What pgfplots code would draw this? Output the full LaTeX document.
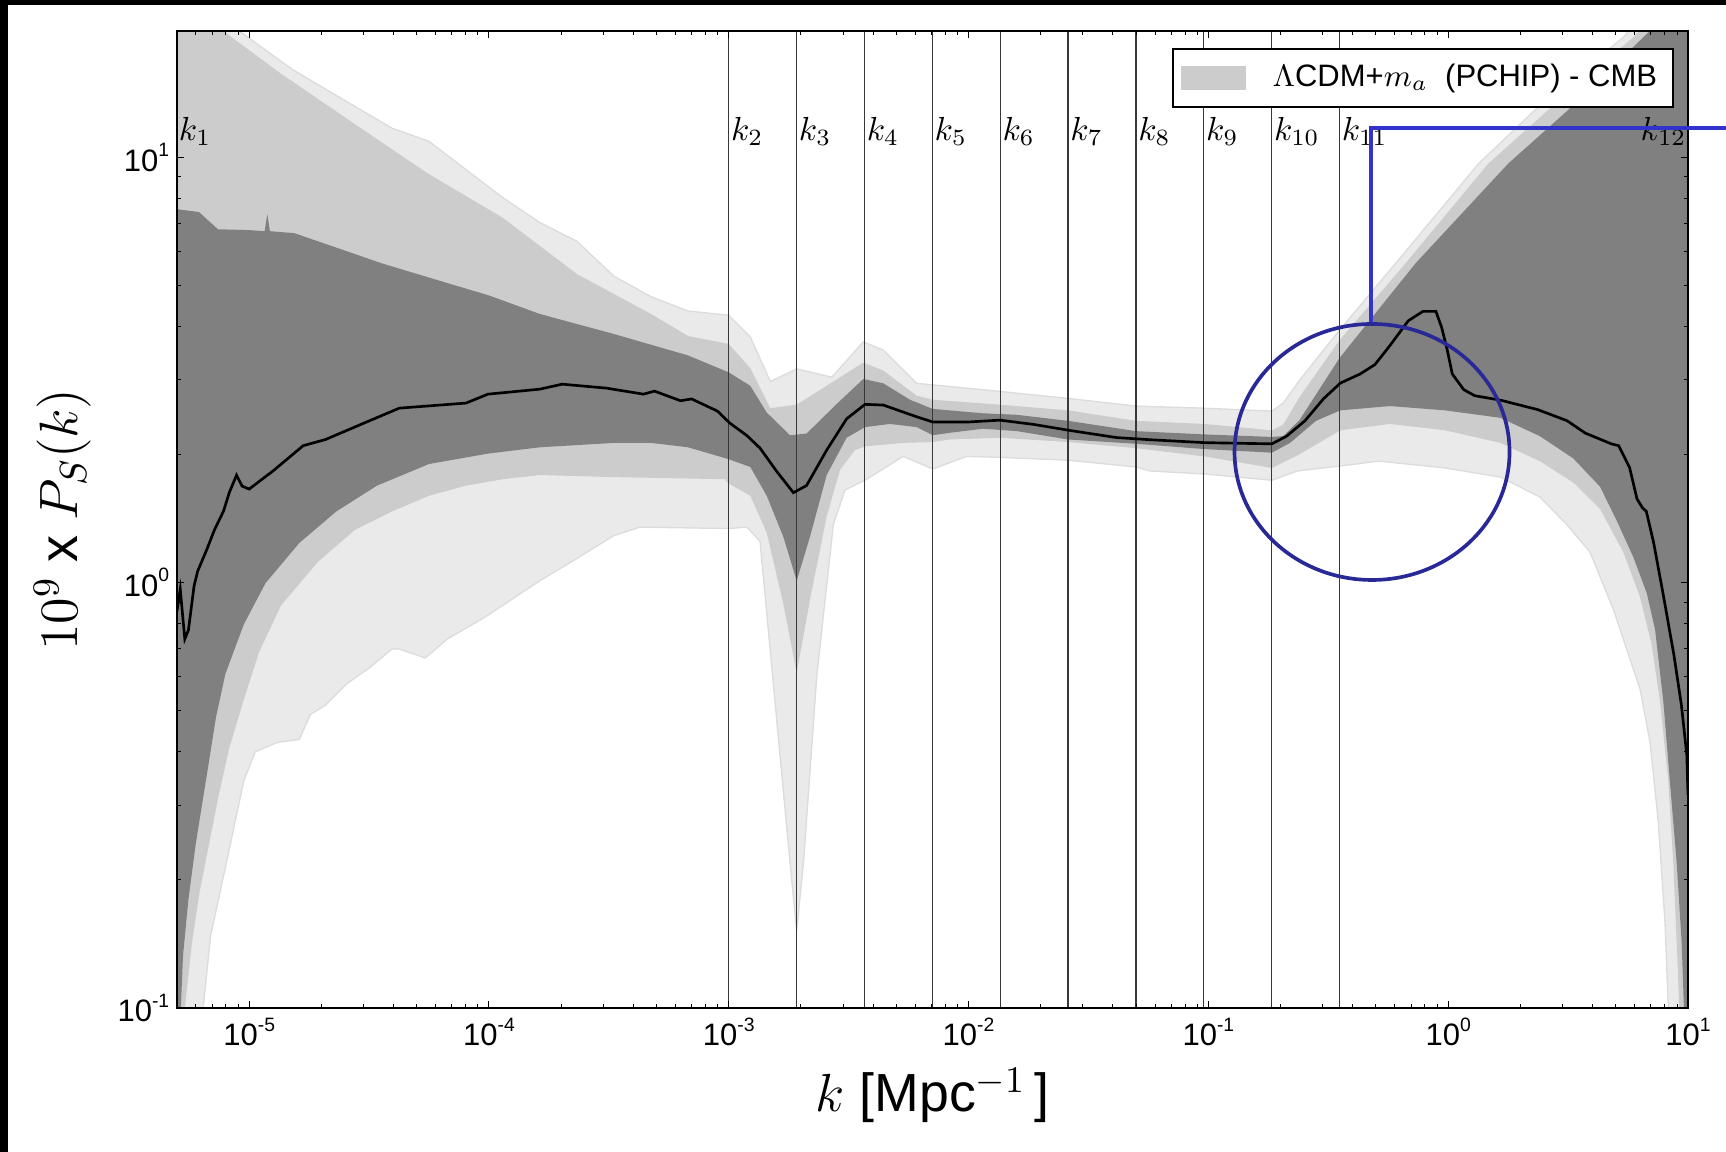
\RequirePackage{fix-cm}
\documentclass[border=0pt]{standalone}
\usepackage[no-math]{fontspec}
\setmainfont{Liberation Sans}
\usepackage{pgfplots}
\pgfplotsset{compat=1.18}
\definecolor{bdark}{RGB}{128,128,128}
\definecolor{bmed}{RGB}{204,204,204}
\definecolor{blight}{RGB}{234,234,234}
\definecolor{bedge}{RGB}{220,220,220}
\definecolor{circblue}{RGB}{40,40,150}
\definecolor{lineblue}{RGB}{50,50,205}
\newcommand{\tk}[1]{10\raisebox{4.4pt}{\fontsize{5.8}{6}\selectfont#1}}
\begin{document}
\begin{tikzpicture}
\begin{axis}[
  xmode=log, ymode=log,
  scale only axis, width=453.3pt, height=293.1pt,
  xmin=5e-6, xmax=10, ymin=0.1, ymax=19.8,
  axis on top,
  xtick={1e-5,1e-4,1e-3,1e-2,1e-1,1,10},
  xticklabels={\tk{-5},\tk{-4},\tk{-3},\tk{-2},\tk{-1},\tk{0},\tk{1}},
  minor xtick={6e-6,7e-6,8e-6,9e-6,2e-5,3e-5,4e-5,5e-5,6e-5,7e-5,8e-5,9e-5,2e-4,3e-4,4e-4,5e-4,6e-4,7e-4,8e-4,9e-4,2e-3,3e-3,4e-3,5e-3,6e-3,7e-3,8e-3,9e-3,2e-2,3e-2,4e-2,5e-2,6e-2,7e-2,8e-2,9e-2,0.2,0.3,0.4,0.5,0.6,0.7,0.8,0.9,2,3,4,5,6,7,8,9},
  ytick={0.1,1,10},
  yticklabels={\tk{-1},\tk{0},\tk{1}},
  minor ytick={0.2,0.3,0.4,0.5,0.6,0.7,0.8,0.9,2,3,4,5,6,7,8,9},
  tick label style={font=\fontsize{9.3}{11}\selectfont},
  yticklabel style={xshift=1.2pt},
  xticklabel style={yshift=0.6pt},
  major tick length=2.1pt, minor tick length=1.2pt,
  every tick/.style={black, line width=0.3pt},
  axis line style={line width=0.7pt},
  every axis x label/.style={at={(axis description cs:0.5,-0.1061)}, anchor=base, font=\fontsize{16.1}{19}\selectfont},
  every axis y label/.style={at={(axis description cs:-0.0655,0.5)}, rotate=90, anchor=base, font=\fontsize{16.2}{19}\selectfont},
  xlabel={$k$ [Mpc$^{-1}$\,]},
  ylabel={$10^9$ x $P_S(k)$},
  legend style={at={(0.991,0.983)}, anchor=north east, draw=black, line width=0.6pt, fill=white,
    font=\fontsize{9.3}{11}\selectfont, inner xsep=2.4pt, inner ysep=2.2pt, nodes={inner sep=2.5pt}},
  legend image code/.code={\fill[#1] (0pt,-3.6pt) rectangle (19.5pt,3.6pt); \path (25pt,0pt);},
]
% outer (lightest) band
\addplot[fill=blight, draw=bedge, line width=0.4pt, forget plot] coordinates {
(5e-6,36.1) (8.98e-6,19.9) (1.51e-5,16.1) (1.94e-5,14.8) (3.94e-5,11.7) (5.62e-5,10.9) (8.02e-5,9.35) (1.14e-4,8.04) (1.63e-4,7.02) (2.33e-4,6.34) (3.32e-4,5.25) (4.74e-4,4.70) (6.76e-4,4.35) (1.0e-3,4.25) (1.23e-3,3.78) (1.49e-3,2.97) (1.69e-3,3.07) (1.92e-3,3.18) (2.69e-3,3.04) (3.64e-3,3.68) (4.41e-3,3.52) (6.08e-3,2.94) (1.15e-2,2.84) (2.60e-2,2.71) (4.99e-2,2.60) (9.64e-2,2.57) (0.184,2.53) (0.205,2.64) (0.240,2.99) (0.352,3.92) (0.604,5.63) (1.34,9.66) (2.30,12.9) (5.41,19.2) (10,29)
(10,0.0608) (8.28,0.1) (8.02,0.159) (7.52,0.274) (6.94,0.423) (6.31,0.562) (4.88,0.866) (3.90,1.18) (3.12,1.37) (2.41,1.59) (1.65,1.77) (0.972,1.86) (0.514,1.93) (0.355,1.88) (0.235,1.83) (0.184,1.74) (9.64e-2,1.80) (5.71e-2,1.83) (4.99e-2,1.87) (2.60e-2,1.94) (1.35e-2,1.97) (9.82e-3,1.98) (7.09e-3,1.85) (5.34e-3,1.98) (3.76e-3,1.75) (3.05e-3,1.65) (2.73e-3,1.37) (2.33e-3,0.606) (2.05e-3,0.220) (1.92e-3,0.152) (1.80e-3,0.220) (1.58e-3,0.484) (1.35e-3,1.25) (1.19e-3,1.35) (1.0e-3,1.34) (4.26e-4,1.35) (3.32e-4,1.29) (2.33e-4,1.14) (1.63e-4,1.01) (9.58e-5,0.828) (6.71e-5,0.737) (5.42e-5,0.665) (4.23e-5,0.698) (3.94e-5,0.698) (3.18e-5,0.631) (2.57e-5,0.580) (2.08e-5,0.515) (1.80e-5,0.490) (1.62e-5,0.428) (1.31e-5,0.421) (1.06e-5,0.400) (9.51e-6,0.343) (7.96e-6,0.214) (6.91e-6,0.148) (6.43e-6,0.1) (5e-6,0.0608)
};
% middle band
\addplot[fill=bmed, draw=none] coordinates {
(5e-6,29.0) (7.70e-6,19.9) (1.36e-5,15.7) (2.76e-5,11.96) (5.62e-5,9.12) (1.14e-4,7.21) (2.33e-4,5.31) (4.74e-4,4.28) (6.76e-4,3.80) (1.0e-3,3.64) (1.23e-3,3.19) (1.49e-3,2.57) (1.92e-3,2.62) (2.48e-3,2.87) (3.64e-3,3.29) (4.41e-3,3.15) (6.08e-3,2.75) (7.09e-3,2.69) (1.35e-2,2.62) (2.60e-2,2.54) (4.99e-2,2.40) (9.64e-2,2.36) (0.184,2.28) (0.205,2.35) (0.240,2.73) (0.352,3.71) (0.664,5.63) (1.47,9.66) (2.61,12.9) (5.95,19.2) (10,26.1)
(10,0.0608) (9.20,0.1) (8.97,0.143) (8.68,0.220) (8.28,0.340) (7.64,0.527) (7.06,0.713) (6.31,0.925) (5.37,1.18) (4.30,1.49) (3.32,1.72) (2.41,1.93) (1.65,2.13) (0.972,2.28) (0.571,2.36) (0.355,2.28) (0.235,1.99) (0.184,1.86) (9.64e-2,1.98) (4.99e-2,2.07) (2.60e-2,2.14) (1.35e-2,2.19) (8.36e-3,2.17) (7.09e-3,2.14) (5.34e-3,2.13) (3.70e-3,2.09) (3.36e-3,2.05) (2.91e-3,1.84) (2.56e-3,1.43) (2.18e-3,0.910) (1.92e-3,0.613) (1.69e-3,0.890) (1.44e-3,1.31) (1.23e-3,1.60) (1.0e-3,1.71) (9.64e-4,1.75) (3.32e-4,1.77) (1.63e-4,1.79) (1.14e-4,1.75) (8.02e-5,1.69) (5.62e-5,1.60) (3.94e-5,1.47) (2.76e-5,1.33) (1.94e-5,1.12) (1.36e-5,0.885) (1.10e-5,0.687) (9.51e-6,0.532) (8.24e-6,0.406) (7.41e-6,0.310) (6.21e-6,0.187) (5.78e-6,0.143) (5.39e-6,0.1) (5e-6,0.0608)
};
\addlegendentry{$\Lambda$CDM+$m_a$\hspace{0.55em}(PCHIP) - CMB}
% inner (dark) band
\addplot[fill=bdark, draw=none, forget plot] coordinates {
(5e-6,7.55) (6.18e-6,7.43) (7.41e-6,6.77) (9.93e-6,6.74) (1.16e-5,6.70) (1.19e-5,7.35) (1.22e-5,6.70) (1.54e-5,6.63) (2.47e-5,6.05) (3.57e-5,5.63) (6.94e-5,5.03) (9.90e-5,4.74) (1.63e-4,4.28) (3.32e-4,3.84) (6.76e-4,3.42) (1.0e-3,3.12) (1.23e-3,2.90) (1.44e-3,2.51) (1.80e-3,2.22) (2.11e-3,2.24) (2.82e-3,2.63) (3.64e-3,3.01) (4.41e-3,2.94) (5.70e-3,2.69) (7.09e-3,2.56) (1.15e-2,2.50) (1.59e-2,2.48) (2.60e-2,2.40) (4.99e-2,2.27) (9.64e-2,2.23) (0.184,2.20) (0.205,2.21) (0.240,2.41) (0.352,3.37) (0.731,5.63) (1.78,9.66) (3.16,12.9) (6.55,19.2) (10,24.4)
(10,0.0608) (9.62,0.1) (9.41,0.143) (8.97,0.220) (8.41,0.340) (7.89,0.527) (7.29,0.777) (6.73,0.945) (5.91,1.15) (5.04,1.40) (4.30,1.68) (3.32,1.96) (2.41,2.21) (1.65,2.44) (0.972,2.54) (0.571,2.60) (0.355,2.54) (0.281,2.40) (0.219,2.13) (0.184,2.02) (9.64e-2,2.06) (4.99e-2,2.12) (2.60e-2,2.17) (1.59e-2,2.27) (1.15e-2,2.30) (8.36e-3,2.25) (7.09e-3,2.22) (6.08e-3,2.32) (4.70e-3,2.36) (3.70e-3,2.32) (3.10e-3,2.19) (2.56e-3,1.79) (2.18e-3,1.28) (1.92e-3,1.01) (1.69e-3,1.28) (1.44e-3,1.60) (1.23e-3,1.87) (1.0e-3,1.95) (6.76e-4,2.08) (4.74e-4,2.13) (3.32e-4,2.13) (1.63e-4,2.08) (9.90e-5,2.01) (5.62e-5,1.90) (3.41e-5,1.69) (2.31e-5,1.47) (1.62e-5,1.24) (1.17e-5,0.997) (9.51e-6,0.799) (7.96e-6,0.610) (7.27e-6,0.482) (6.67e-6,0.355) (6.00e-6,0.245) (5.58e-6,0.180) (5.30e-6,0.133) (5e-6,0.0608)
};
% knot lines
\foreach \kk in {1.0e-3,1.919e-3,3.681e-3,7.063e-3,1.355e-2,2.600e-2,4.989e-2,9.572e-2,0.1837,0.3524} {
  \edef\temp{\noexpand\draw[black!78, line width=0.4pt] (axis cs:\kk,0.1) -- (axis cs:\kk,19.8);}
  \temp
}
% median
\addplot[black, line width=0.8pt, forget plot] coordinates {
(5.0e-6,0.857) (5.16e-6,0.965) (5.39e-6,0.737) (5.58e-6,0.773) (5.89e-6,0.981) (6.10e-6,1.064) (6.67e-6,1.199) (7.16e-6,1.329) (7.82e-6,1.473) (8.26e-6,1.627) (8.86e-6,1.789) (9.34e-6,1.686) (1.00e-5,1.659) (1.26e-5,1.832) (1.68e-5,2.098) (2.08e-5,2.169) (3.18e-5,2.402) (4.23e-5,2.571) (8.02e-5,2.642) (9.90e-5,2.773) (1.63e-4,2.849) (2.02e-4,2.927) (3.09e-4,2.865) (4.41e-4,2.773) (4.90e-4,2.819) (6.29e-4,2.676) (7.00e-4,2.702) (8.97e-4,2.530) (1.01e-3,2.371) (1.19e-3,2.216) (1.35e-3,2.071) (1.58e-3,1.830) (1.86e-3,1.627) (2.11e-3,1.691) (2.56e-3,2.048) (3.10e-3,2.426) (3.70e-3,2.624) (4.41e-3,2.614) (6.08e-3,2.453) (7.11e-3,2.384) (9.82e-3,2.384) (1.35e-2,2.409) (1.86e-2,2.355) (2.65e-2,2.278) (4.15e-2,2.192) (5.71e-2,2.167) (9.64e-2,2.133) (0.184,2.119) (0.212,2.209) (0.253,2.402) (0.302,2.704) (0.355,2.944) (0.430,3.094) (0.495,3.255) (0.571,3.605) (0.682,4.126) (0.785,4.340) (0.889,4.340) (0.938,3.988) (0.989,3.543) (1.04,3.094) (1.16,2.843) (1.29,2.750) (1.65,2.685) (2.36,2.551) (3.13,2.402) (3.73,2.246) (4.79,2.119) (5.14,2.098) (5.71,1.863) (6.13,1.573) (6.47,1.497) (6.70,1.472) (7.19,1.242) (7.86,0.947) (8.74,0.675) (9.39,0.515) (9.89,0.393) (10,0.317)
};
% knot labels
\begin{scope}[every node/.style={inner sep=0pt, font=\fontsize{10}{12}\selectfont}]
\node[anchor=base west, xshift=0.4pt] at (axis cs:5e-6,10.96) {$k_1$};
\node[anchor=base west, xshift=0.5pt] at (axis cs:1.0e-3,10.96) {$k_2$};
\node[anchor=base west, xshift=0.5pt] at (axis cs:1.919e-3,10.96) {$k_3$};
\node[anchor=base west, xshift=0.5pt] at (axis cs:3.681e-3,10.96) {$k_4$};
\node[anchor=base west, xshift=0.5pt] at (axis cs:7.063e-3,10.96) {$k_5$};
\node[anchor=base west, xshift=0.5pt] at (axis cs:1.355e-2,10.96) {$k_6$};
\node[anchor=base west, xshift=0.5pt] at (axis cs:2.600e-2,10.96) {$k_7$};
\node[anchor=base west, xshift=0.5pt] at (axis cs:4.989e-2,10.96) {$k_8$};
\node[anchor=base west, xshift=0.5pt] at (axis cs:9.572e-2,10.96) {$k_9$};
\node[anchor=base west, xshift=0.5pt] at (axis cs:0.1837,10.96) {$k_{10}$};
\node[anchor=base west, xshift=0.5pt] at (axis cs:0.3524,10.96) {$k_{11}$};
\node[anchor=base east, xshift=-0.3pt] at (axis cs:10,10.96) {$k_{12}$};
\end{scope}
\coordinate (SW) at (rel axis cs:0,0);
\coordinate (NW) at (rel axis cs:0,1);
\coordinate (NE) at (rel axis cs:1,1);
\coordinate (cc) at (rel axis cs:0.7909,0.5691);
\coordinate (la) at (rel axis cs:0.7902,0.7011);
\coordinate (lb) at (rel axis cs:0.7902,0.9010);
\end{axis}
\draw[lineblue, line width=1.3pt] (la) -- (lb) -- ++(107pt,0);
\draw[circblue, line width=1.1pt] (cc) ellipse [x radius=41.25pt, y radius=38.4pt];
\pgfresetboundingbox
\path[use as bounding box] ([shift={(-53.1pt,-43.2pt)}]SW) rectangle ([shift={(11.4pt,9.3pt)}]NE);
\fill[black] ([shift={(-53.1pt,-43.2pt)}]SW) rectangle ([shift={(-50.7pt,9.3pt)}]NW);
\fill[black] ([shift={(-53.1pt,7.8pt)}]NW) rectangle ([shift={(11.4pt,9.3pt)}]NE);
\end{tikzpicture}
\end{document}
